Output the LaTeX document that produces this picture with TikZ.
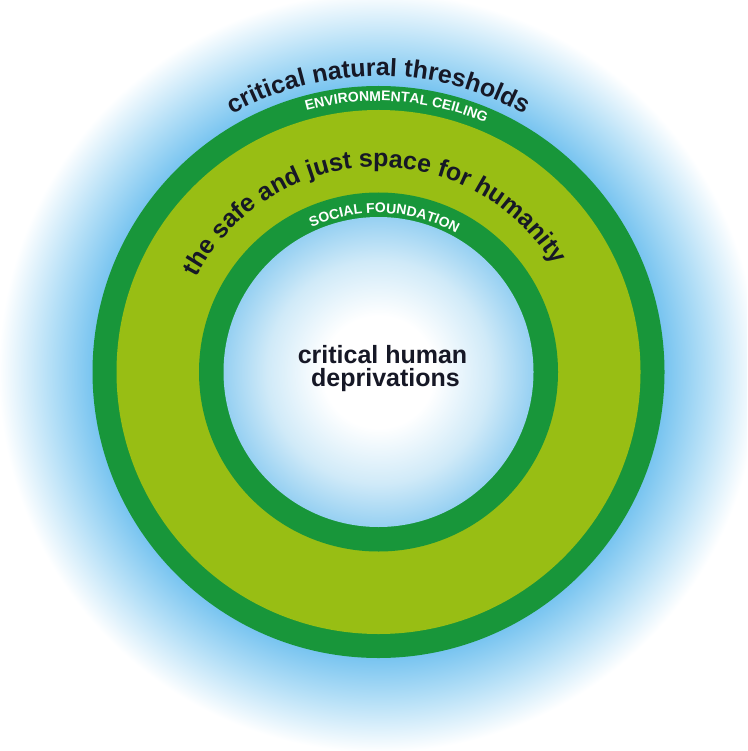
\documentclass[tikz,border=0pt]{standalone}
\usepackage{fontspec}
\setmainfont{Liberation Sans}
\usetikzlibrary{decorations.text,calc}
\definecolor{dkgreen}{RGB}{24,150,58}
\definecolor{ltgreen}{RGB}{152,190,20}
\definecolor{gblue}{RGB}{120,196,240}
\definecolor{gmid}{RGB}{182,224,247}
\definecolor{igedge}{RGB}{150,208,242}
\definecolor{igmid}{RGB}{208,234,248}
\definecolor{txt}{RGB}{22,24,38}
\pgfdeclareradialshading{outerglow}{\pgfpoint{0bp}{0bp}}{color(0bp)=(gblue); color(18.8bp)=(gblue); color(21.7bp)=(gmid); color(25bp)=(white); color(50bp)=(white)}
\pgfdeclareradialshading{innerglow}{\pgfpoint{0bp}{0bp}}{color(0bp)=(white); color(9bp)=(white); color(18bp)=(igmid); color(25bp)=(igedge); color(50bp)=(igedge)}
\newcommand\bigtxt{\bfseries\fontsize{25}{30}\selectfont\color{txt}}
\newcommand\ringtxt{\bfseries\fontsize{14}{16}\selectfont\color{white}}
\begin{document}
\begin{tikzpicture}[x=1pt,y=1pt,
  arctext/.style={decorate, decoration={text along path, text align=center, text={#1}}}]
\useasboundingbox (0,0) rectangle (747,-751);
\fill[white] (0,0) rectangle (747,-751);
\clip (0,0) rectangle (747,-751);
\coordinate (C) at (378.5,-372);
% glow and rings
\shade[shading=outerglow] (C) circle[radius=380];
\fill[dkgreen] (C) circle[radius=286];
\fill[ltgreen] (C) circle[radius=262];
\fill[dkgreen] (C) circle[radius=179.5];
\shade[shading=innerglow] (C) circle[radius=155];
% curved labels
\path[arctext={|\bigtxt|critical natural thresholds}]
  ($(C)+(150:296)$) arc[start angle=150, end angle=30, radius=296];
\path[arctext={|\ringtxt|ENVIRONMENTAL CEILING}]
  ($(C)+(131.1:271)$) arc[start angle=131.1, end angle=41.1, radius=271];
\path[arctext={|\bigtxt|the safe and just space for humanity}]
  ($(C)+(171.9:205)$) arc[start angle=171.9, end angle=11.9, radius=205];
\path[arctext={|\ringtxt|SOCIAL FOUNDATION}]
  ($(C)+(127.8:159)$) arc[start angle=127.8, end angle=47.8, radius=159];
% centre label
\node[anchor=base, font=\bigtxt, inner sep=0pt] (l1) at (382.5,-363) {critical human};
\node[anchor=base, font=\bigtxt, inner sep=0pt] (l2) at (385.5,-386) {deprivations};
\end{tikzpicture}
\end{document}
